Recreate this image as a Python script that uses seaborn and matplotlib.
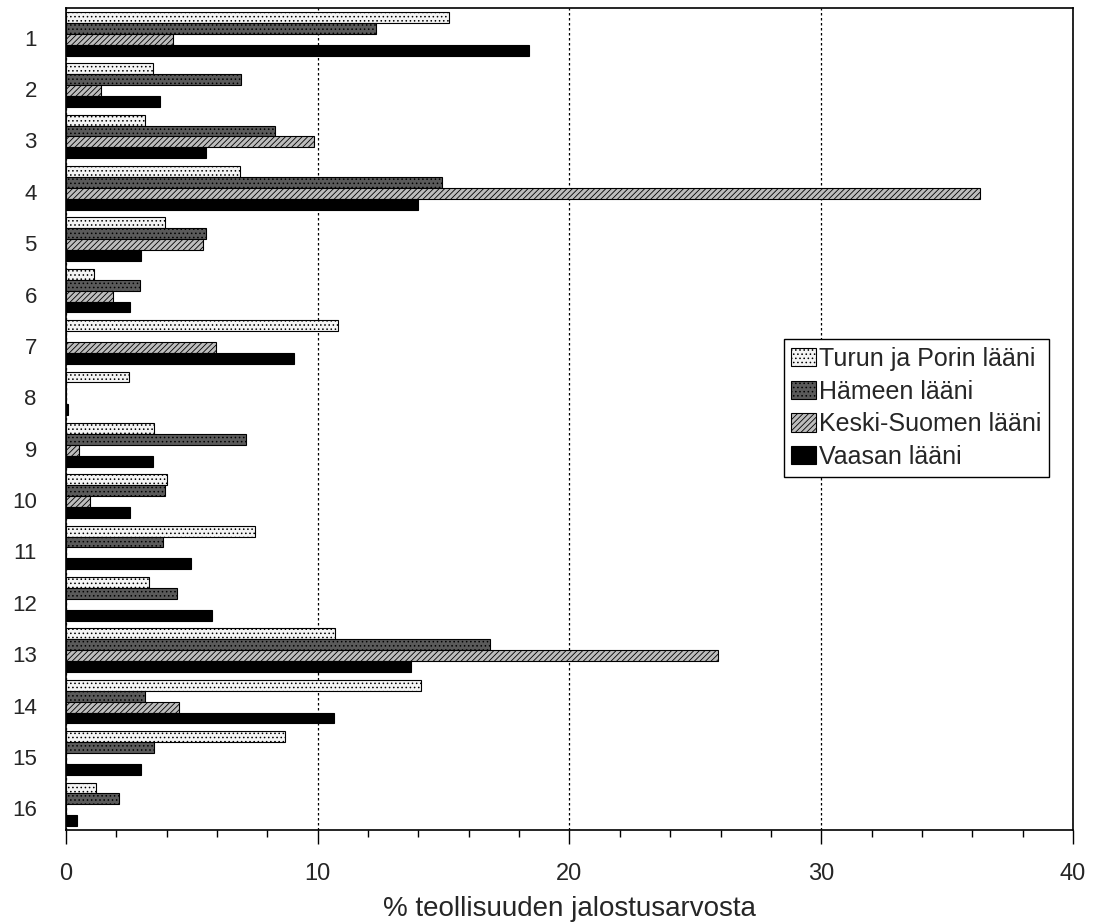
import matplotlib
matplotlib.use('Agg')
import matplotlib.pyplot as plt
from matplotlib.ticker import MultipleLocator
from matplotlib.transforms import ScaledTranslation
import pandas as pd
import seaborn as sns

# industry groups 1..16
categories = [str(i) for i in range(1, 17)]

series_names = ["Turun ja Porin lääni", "Hämeen lääni", "Keski-Suomen lääni", "Vaasan lääni"]

turun = [15.2, 3.45, 3.15, 6.9, 3.95, 1.1, 10.8, 2.5, 3.5, 4.0, 7.5, 3.3, 10.7, 14.1, 8.7, 1.2]
hameen = [12.3, 6.95, 8.3, 14.95, 5.55, 2.95, 0.0, 0.0, 7.15, 3.95, 3.85, 4.4, 16.85, 3.15, 3.5, 2.1]
keski = [4.25, 1.4, 9.85, 36.3, 5.45, 1.85, 5.95, 0.0, 0.5, 0.95, 0.0, 0.0, 25.9, 4.5, 0.0, 0.0]
vaasa = [18.4, 3.75, 5.55, 14.0, 3.0, 2.55, 9.05, 0.1, 3.45, 2.55, 4.95, 5.8, 13.7, 10.65, 3.0, 0.42]

values = [turun, hameen, keski, vaasa]

rows = []
for name, vals in zip(series_names, values):
    for cat, v in zip(categories, vals):
        rows.append({"ryhma": cat, "osuus": v, "laani": name})
df = pd.DataFrame(rows)

sns.set_theme(style="white")
plt.rcParams['font.family'] = ['Liberation Sans', 'DejaVu Sans']
plt.rcParams['hatch.linewidth'] = 0.6

faces = ["#f4f4f4", "#5a5a5a", "#bdbdbd", "#000000"]
hatches = ["....", "....", "//////", ""]

fig = plt.figure(figsize=(10.94, 9.24), dpi=100)
ax = fig.add_axes([0.0603, 0.1017, 0.9205, 0.8896])

sns.barplot(data=df, y="ryhma", x="osuus", hue="laani", orient="h",
            order=categories, hue_order=series_names,
            palette=faces, width=0.85, gap=0, edgecolor="black",
            linewidth=0.8, errorbar=None, ax=ax)

for cont, h in zip(ax.containers, hatches):
    for bar in cont:
        bar.set_hatch(h)

ax.set_xlim(0, 40)
ax.xaxis.set_major_locator(MultipleLocator(10))
ax.xaxis.set_minor_locator(MultipleLocator(2))
ax.tick_params(axis="x", which="major", direction="out", length=10, width=1,
               color="black", labelsize=17, pad=14, bottom=True)
ax.tick_params(axis="x", which="minor", direction="out", length=5, width=1,
               color="black", bottom=True)
ax.tick_params(axis="y", length=0, labelsize=16, pad=21)

# labels sit a little below the group centre in the original
shift = ScaledTranslation(0, -4 / 100, fig.dpi_scale_trans)
for lab in ax.get_yticklabels():
    lab.set_transform(lab.get_transform() + shift)

ax.grid(axis="x", which="major", color="black", linestyle=(0, (2, 2)), linewidth=0.9)
ax.set_axisbelow(True)

for sp in ax.spines.values():
    sp.set_visible(True)
    sp.set_color("black")
    sp.set_linewidth(1.2)

ax.set_ylabel("")
ax.set_xlabel("% teollisuuden jalostusarvosta", fontsize=20, labelpad=8)

leg = ax.legend(loc="upper left", bbox_to_anchor=(0.713, 0.597), fontsize=18,
                frameon=True, fancybox=False, shadow=False, framealpha=1,
                edgecolor="black", handlelength=1.0, handleheight=0.75,
                handletextpad=0.1, labelspacing=0.35, borderpad=0.3,
                borderaxespad=0)
leg.get_frame().set_linewidth(1.0)
for patch, h in zip(leg.get_patches(), hatches):
    patch.set_hatch(h)

fig.savefig("out.png", dpi=100)
